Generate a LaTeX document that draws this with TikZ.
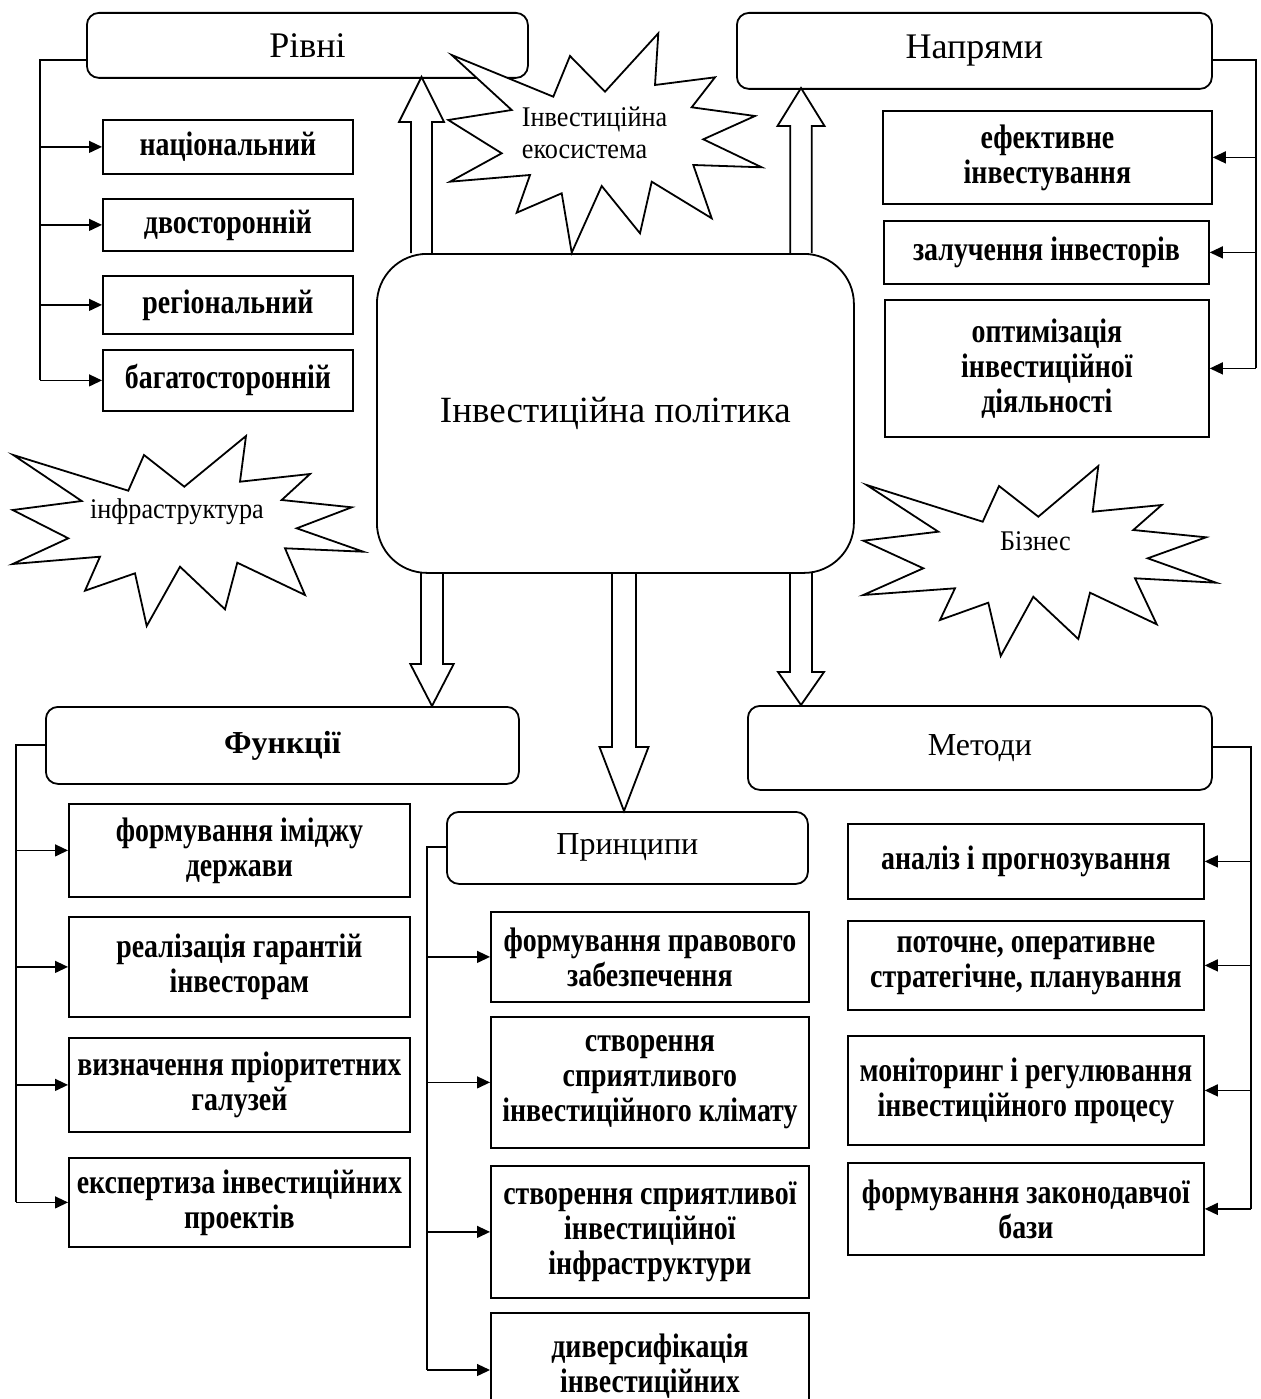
\documentclass[tikz,border=0pt]{standalone}
\usepackage{fontspec}
\setmainfont{Liberation Serif}
\newfontfamily\itemfam[FakeStretch=0.82]{Liberation Serif}
\newfontfamily\starfam[FakeStretch=0.92]{Liberation Serif}
\usetikzlibrary{arrows.meta,calc}
\newcommand\fItem{\itemfam\bfseries\fontsize{34}{35}\selectfont}
\newcommand\fHeadL{\fontsize{36}{42}\selectfont}
\newcommand\fHeadS{\fontsize{32}{38}\selectfont}
\newcommand\fCent{\fontsize{37}{44}\selectfont}
\newcommand\fStar{\starfam\fontsize{28.5}{32}\selectfont}
\begin{document}
\begin{tikzpicture}[x=1pt,y=-1pt,
 itembox/.style={draw, line width=1.8pt, inner sep=0pt, align=center, font=\fItem, anchor=north west},
 headbox/.style={draw, line width=1.8pt, rounded corners=12pt, inner sep=0pt, align=center, anchor=north west},
 conn/.style={line width=1.3pt},
 arr/.style={line width=1.3pt, -{Triangle[length=13pt,width=12pt]}},
 blockarr/.style={draw, line width=1.8pt, fill=white, line join=miter},
 burst/.style={draw, line width=1.8pt, fill=white, line join=miter},
 burstlabel/.style={font=\fStar, inner sep=0pt, align=left},
]
\useasboundingbox (0,0) rectangle (1260,1399);
\fill[white] (0,0) rectangle (1260,1399);

% --- block arrows (drawn first, boxes on top) ---
\path (376,253) coordinate (cnw) (376,572) coordinate (csw);
\coordinate (rivniS) at (0,77);
\coordinate (naprS) at (0,88);
\coordinate (funcN) at (0,706);
\coordinate (princN) at (0,811);
\coordinate (methN) at (0,705);

\coordinate (ua1) at ($(cnw)+(45.5,0)$);
\coordinate (ut1) at (ua1 |- rivniS);
\draw[blockarr] ($(ua1)+(-10.5,0)$) -- ($(ut1)+(-10.5,45)$) -- ($(ut1)+(-22.5,45)$) -- (ut1) -- ($(ut1)+(22.5,45)$) -- ($(ut1)+(10.5,45)$) -- ($(ua1)+(10.5,0)$);

\coordinate (ua2) at ($(cnw)+(425,0)$);
\coordinate (ut2) at (ua2 |- naprS);
\draw[blockarr] ($(ua2)+(-10.75,0)$) -- ($(ut2)+(-10.75,38)$) -- ($(ut2)+(-23.5,38)$) -- (ut2) -- ($(ut2)+(23.5,38)$) -- ($(ut2)+(10.75,38)$) -- ($(ua2)+(10.75,0)$);

\coordinate (da1) at ($(csw)+(56,0)$);
\coordinate (dt1) at (da1 |- funcN);
\draw[blockarr] ($(da1)+(-11,0)$) -- ($(dt1)+(-11,-42)$) -- ($(dt1)+(-21.7,-42)$) -- (dt1) -- ($(dt1)+(21.7,-42)$) -- ($(dt1)+(11,-42)$) -- ($(da1)+(11,0)$);

\coordinate (da2) at ($(csw)+(248,0)$);
\coordinate (dt2) at (da2 |- princN);
\draw[blockarr] ($(da2)+(-12,0)$) -- ($(dt2)+(-12,-64)$) -- ($(dt2)+(-24.5,-64)$) -- (dt2) -- ($(dt2)+(24.5,-64)$) -- ($(dt2)+(12,-64)$) -- ($(da2)+(12,0)$);

\coordinate (da3) at ($(csw)+(425,0)$);
\coordinate (dt3) at (da3 |- methN);
\draw[blockarr] ($(da3)+(-11,0)$) -- ($(dt3)+(-11,-33)$) -- ($(dt3)+(-23,-33)$) -- (dt3) -- ($(dt3)+(23,-33)$) -- ($(dt3)+(11,-33)$) -- ($(da3)+(11,0)$);

% --- central box ---
\node[draw, line width=1.8pt, rounded corners=50pt, inner sep=0pt, anchor=north west,
      minimum width=477pt, minimum height=319pt, font=\fCent] (cent) at (cnw) {Інвестиційна політика};

% --- Рівні ---
\node[headbox, minimum width=441pt, minimum height=65pt, font=\fHeadL] (rivni) at (86,12) {Рівні};
\node[itembox, minimum width=250pt, minimum height=54pt] (l1) at (102,119) {національний};
\node[itembox, minimum width=250pt, minimum height=52pt] (l2) at (102,198) {двосторонній};
\node[itembox, minimum width=250pt, minimum height=58pt] (l3) at (102,275) {регіональний};
\node[itembox, minimum width=250pt, minimum height=61pt] (l4) at (102,349) {багатосторонній};
\coordinate (lb) at (40,60);
\draw[conn] (rivni.west |- lb) -- (lb) -- (lb |- l4.west);
\foreach \n in {l1,l2,l3,l4} \draw[arr] (lb |- \n.west) -- (\n.west);

% --- Напрями ---
\node[headbox, minimum width=475pt, minimum height=76pt, font=\fHeadL] (napr) at (736,12) {Напрями};
\node[itembox, minimum width=329pt, minimum height=93pt] (r1) at (882,110) {ефективне\\інвестування};
\node[itembox, minimum width=325pt, minimum height=63pt] (r2) at (883,220) {залучення інвесторів};
\node[itembox, minimum width=324pt, minimum height=137pt] (r3) at (884,299) {оптимізація\\інвестиційної\\діяльності};
\coordinate (rb) at (1256,60);
\draw[conn] (napr.east |- rb) -- (rb) -- (rb |- r3.east);
\foreach \n in {r1,r2,r3} \draw[arr] (rb |- \n.east) -- (\n.east);

% --- Функції ---
\node[headbox, minimum width=473pt, minimum height=77pt, font=\bfseries\fHeadS] (func) at (45,706) {Функції};
\node[itembox, minimum width=341pt, minimum height=93pt] (f1) at (68,803) {формування іміджу\\держави};
\node[itembox, minimum width=341pt, minimum height=100pt] (f2) at (68,916) {реалізація гарантій\\інвесторам};
\node[itembox, minimum width=341pt, minimum height=94pt] (f3) at (68,1037) {визначення пріоритетних\\галузей};
\node[itembox, minimum width=341pt, minimum height=89pt] (f4) at (68,1157) {експертиза інвестиційних\\проектів};
\coordinate (fb) at (16,745);
\draw[conn] (func.west |- fb) -- (fb) -- (fb |- f4.west);
\foreach \n in {f1,f2,f3,f4} \draw[arr] (fb |- \n.west) -- (\n.west);

% --- Принципи ---
\node[headbox, minimum width=361pt, minimum height=72pt, font=\fHeadS] (princ) at (446,811) {Принципи};
\node[itembox, minimum width=318pt, minimum height=90pt] (p1) at (490,911) {формування правового\\забезпечення};
\node[itembox, minimum width=318pt, minimum height=131pt] (p2) at (490,1016) {створення\\сприятливого\\інвестиційного клімату};
\node[itembox, minimum width=318pt, minimum height=132pt] (p3) at (490,1165) {створення сприятливої\\інвестиційної\\інфраструктури};
\node[itembox, minimum width=318pt, minimum height=106pt] (p4) at (490,1312) {диверсифікація\\інвестиційних};
\coordinate (pb) at (427,847);
\coordinate (pend) at (427,1370);
\draw[conn] (princ.west |- pb) -- (pb) -- (pend);
\foreach \n in {p1,p2,p3} \draw[arr] (pb |- \n.west) -- (\n.west);
\draw[arr] (pend) -- (p4.west |- pend);

% --- Методи ---
\node[headbox, minimum width=464pt, minimum height=84pt, font=\fHeadS] (meth) at (747,705) {Методи};
\node[itembox, minimum width=356pt, minimum height=75pt] (m1) at (847,823) {аналіз і прогнозування};
\node[itembox, minimum width=356pt, minimum height=89pt] (m2) at (847,920) {поточне, оперативне\\стратегічне, планування};
\node[itembox, minimum width=356pt, minimum height=109pt] (m3) at (847,1035) {моніторинг і регулювання\\інвестиційного процесу};
\node[itembox, minimum width=356pt, minimum height=92pt] (m4) at (847,1162) {формування законодавчої\\бази};
\coordinate (mb) at (1251,747);
\draw[conn] (meth.east |- mb) -- (mb) -- (mb |- m4.east);
\foreach \n in {m1,m2,m3,m4} \draw[arr] (mb |- \n.east) -- (\n.east);

% --- bursts ---
\draw[burst] (451.7,55) -- (553.3,96.7) -- (570,56) -- (605,91.7) -- (658.3,33.3) -- (655,85) -- (715,77.3) -- (691.7,107.3) -- (755,116) -- (703.3,139.3) -- (761.7,167.3) -- (693.3,165) -- (711.7,218.3) -- (651.7,181.7) -- (640,233.3) -- (601.7,186) -- (571.7,252.7) -- (561.7,193.3) -- (516.7,212.7) -- (530,175) -- (450,181.7) -- (501.7,153.3) -- (448.3,120) -- (511.7,110) -- cycle;
\node[burstlabel, anchor=west] (eco) at (521.7,133) {Інвестиційна\\екосистема};

\draw[burst] (13.3,455) -- (128.3,490.7) -- (144,455) -- (184.3,486.7) -- (246,436) -- (240,481.7) -- (310,474) -- (281.7,500) -- (351.7,507.3) -- (296.7,528.3) -- (363.3,551.7) -- (285,548.3) -- (305,595) -- (237.3,562.7) -- (225,609.3) -- (180,566.7) -- (146.7,626) -- (135,573.3) -- (85,590.7) -- (100,556.7) -- (12.7,564) -- (68.3,538.3) -- (12.7,510) -- (81.7,501) -- cycle;
\node[burstlabel] (infra) at (177,512) {інфраструктура};

\draw[burst] (866.7,485) -- (982.7,521.7) -- (999,486) -- (1038.3,516.7) -- (1098.3,466) -- (1092.7,511.7) -- (1161.7,505) -- (1133.3,530) -- (1206,537.3) -- (1147.7,558.3) -- (1216,582.7) -- (1135,578.3) -- (1156.7,624.3) -- (1090,592.7) -- (1078.3,639) -- (1033.3,596.7) -- (1000.7,656) -- (988.3,602.7) -- (940,620) -- (955,588.3) -- (863.3,595) -- (923.3,568.3) -- (863.3,540.7) -- (938.3,531.7) -- cycle;
\node[burstlabel] (biz) at (1035.5,541) {Бізнес};
\end{tikzpicture}
\end{document}
